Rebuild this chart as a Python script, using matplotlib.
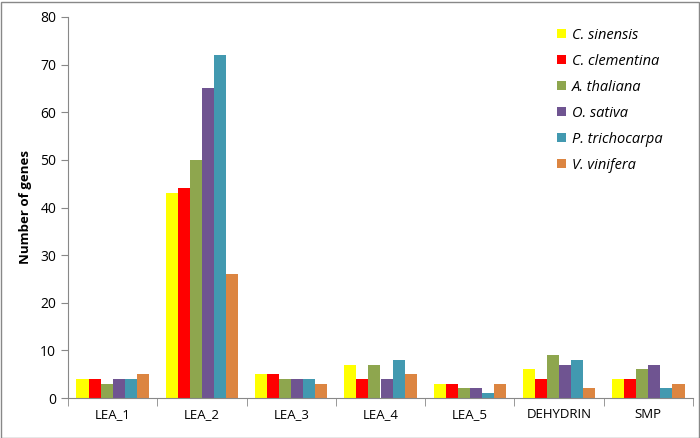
import matplotlib
matplotlib.use("Agg")
import matplotlib.pyplot as plt
import numpy as np
from matplotlib.patches import Rectangle

categories = ["LEA_1", "LEA_2", "LEA_3", "LEA_4", "LEA_5", "DEHYDRIN", "SMP"]
species = ["C. sinensis", "C. clementina", "A. thaliana", "O. sativa", "P. trichocarpa", "V. vinifera"]
c_sinensis = [4, 43, 5, 7, 3, 6, 4]
c_clementina = [4, 44, 5, 4, 3, 4, 4]
a_thaliana = [3, 50, 4, 7, 2, 9, 6]
o_sativa = [4, 65, 4, 4, 2, 7, 7]
p_trichocarpa = [4, 72, 4, 8, 1, 8, 2]
v_vinifera = [5, 26, 3, 5, 3, 2, 3]
series = [c_sinensis, c_clementina, a_thaliana, o_sativa, p_trichocarpa, v_vinifera]
colors = ["#FFFF00", "#FF0000", "#8EA64E", "#6F5491", "#4299B0", "#DC8541"]

plt.rcParams['font.family'] = ['Open Sans', 'DejaVu Sans']

fig = plt.figure(figsize=(7, 4.38), dpi=100)
ax = fig.add_axes([68/700, 40/438, 625/700, 381/438])

x = np.arange(len(categories))
w = 0.135
for i, (vals, col, name) in enumerate(zip(series, colors, species)):
    ax.bar(x + (i - 2.5) * w, vals, width=w, color=col, label=name, linewidth=0)

ax.set_xlim(-0.5, len(categories) - 0.5)
ax.set_ylim(0, 80)
ax.set_yticks(range(0, 81, 10))
ax.set_xticks(x)
ax.set_xticklabels(categories, fontsize=9.5)
ax.tick_params(axis='x', length=0, pad=7)
ax.set_xticks(np.arange(-0.5, len(categories), 1), minor=True)
ax.tick_params(axis='x', which='minor', length=6, color='#888888', direction='out')
ax.tick_params(axis='y', labelsize=10, length=5, color='#888888', direction='out')
for s in ['top', 'right']:
    ax.spines[s].set_visible(False)
for s in ['left', 'bottom']:
    ax.spines[s].set_color('#888888')
ax.set_ylabel("Number of genes", fontsize=9.5, fontweight='bold', labelpad=6)

leg = ax.legend(loc='upper right', bbox_to_anchor=(0.972, 1.006), frameon=False,
                prop={'style': 'italic', 'size': 10.5}, handlelength=0.6, handleheight=0.6,
                labelspacing=0.75, handletextpad=0.4)

fig.patches.append(Rectangle((0.5/700, 0.5/438), 698/700, 436/438, transform=fig.transFigure,
                             fill=False, edgecolor='#888888', linewidth=1))

fig.savefig("out.png", dpi=100)
